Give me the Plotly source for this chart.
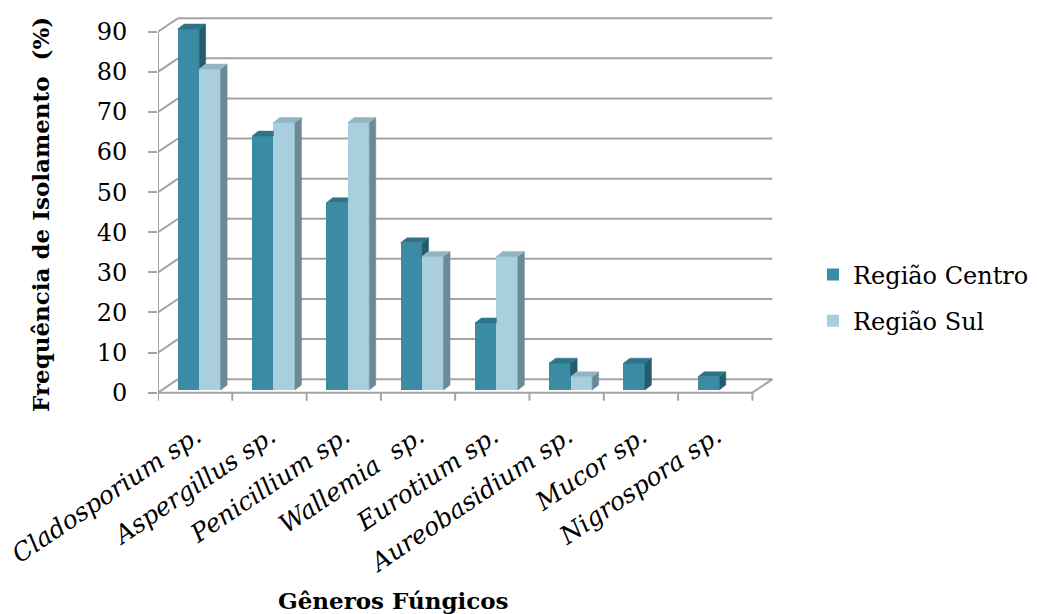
import plotly.graph_objects as go

# ---- data -------------------------------------------------------------
generos = ["Cladosporium sp.", "Aspergillus sp.", "Penicillium sp.", "Wallemia  sp.",
           "Eurotium sp.", "Aureobasidium sp.", "Mucor sp.", "Nigrospora sp."]
regiao_centro = [90.0, 63.3, 46.7, 36.7, 16.7, 6.7, 6.7, 3.3]
regiao_sul = [80.0, 66.7, 66.7, 33.3, 33.3, 3.3, 0.0, 0.0]
y_ticks = [0, 10, 20, 30, 40, 50, 60, 70, 80, 90]

# ---- geometry of the pseudo-3D frame (pixel sizes turned into axis units) ----
W, H = 1037, 614
PLOT_L, PLOT_R, PLOT_T, PLOT_B = 158, 775, 10, 404
PX_CAT = 74.3          # pixels per category slot
PX_UNIT = 4.011        # pixels per percentage point
Y0_PIX = 392.7         # pixel row of value 0 on the front edge

x_lo = -0.5
x_hi = x_lo + (PLOT_R - PLOT_L) / PX_CAT
y_lo = -(PLOT_B - Y0_PIX) / PX_UNIT
y_hi = (Y0_PIX - PLOT_T) / PX_UNIT

WALL_DX = 20 / PX_CAT
WALL_DY = 13.5 / PX_UNIT
DEPTH_F = 0.2                      # bars sit slightly behind the front edge
SX = DEPTH_F * WALL_DX
B0 = DEPTH_F * WALL_DY
BAR_W = 21.5 / PX_CAT
BAR_DX = 6.5 / PX_CAT
BAR_DY = 5.0 / PX_UNIT

C_FRONT, C_TOP, C_SIDE = "#3A8BA3", "#2D7488", "#235D6D"
S_FRONT, S_TOP, S_SIDE = "#A9CFDE", "#93B5C3", "#6C8A96"
GRID = "#A3A3A3"
n = len(generos)

fig = go.Figure()

# front faces
xc = [i - BAR_W / 2 + SX for i in range(n)]
xs = [i + BAR_W / 2 + SX for i in range(n)]
fig.add_trace(go.Bar(x=xc, y=regiao_centro, base=[B0] * n, width=BAR_W,
                     marker=dict(color=C_FRONT, line=dict(width=0)),
                     name="Região Centro", legendgroup="c", hoverinfo="skip"))
fig.add_trace(go.Bar(x=xs, y=regiao_sul, base=[B0] * n, width=BAR_W,
                     marker=dict(color=S_FRONT, line=dict(width=0)),
                     name="Região Sul", legendgroup="s", hoverinfo="skip"))


def poly_trace(xs_, ys_, color):
    return go.Scatter(x=xs_, y=ys_, mode="lines", fill="toself", fillcolor=color,
                      line=dict(width=0.5, color=color), hoverinfo="skip",
                      showlegend=False)


# side and top faces of the bars
c_side_x, c_side_y, c_top_x, c_top_y = [], [], [], []
s_side_x, s_side_y, s_top_x, s_top_y = [], [], [], []
for i in range(n):
    vc, vs = regiao_centro[i], regiao_sul[i]
    xl = i - BAR_W + SX
    xm = i + SX
    xr = i + BAR_W + SX
    tc, ts = B0 + vc, B0 + vs
    if vc > 0:
        # visible part of the centro side face (above the neighbouring bar)
        if vc > vs:
            c_side_x += [xm, xm + BAR_DX, xm + BAR_DX, xm, xm, None]
            c_side_y += [ts, ts + BAR_DY, tc + BAR_DY, tc, ts, None]
            c_top_x += [xl, xm, xm + BAR_DX, xl + BAR_DX, xl, None]
            c_top_y += [tc, tc, tc + BAR_DY, tc + BAR_DY, tc, None]
        else:
            c_top_x += [xl, xm, xm, xl + BAR_DX, xl, None]
            c_top_y += [tc, tc, tc + BAR_DY, tc + BAR_DY, tc, None]
    if vs > 0:
        s_side_x += [xr, xr + BAR_DX, xr + BAR_DX, xr, xr, None]
        s_side_y += [B0, B0 + BAR_DY, ts + BAR_DY, ts, B0, None]
        s_top_x += [xm, xr, xr + BAR_DX, xm + BAR_DX, xm, None]
        s_top_y += [ts, ts, ts + BAR_DY, ts + BAR_DY, ts, None]

fig.add_trace(poly_trace(c_side_x, c_side_y, C_SIDE))
fig.add_trace(poly_trace(c_top_x, c_top_y, C_TOP))
fig.add_trace(poly_trace(s_side_x, s_side_y, S_SIDE))
fig.add_trace(poly_trace(s_top_x, s_top_y, S_TOP))

# walls, floor and axis lines
shapes = []


def seg(x0, y0, x1, y1):
    shapes.append(dict(type="line", xref="x", yref="y", x0=x0, y0=y0, x1=x1, y1=y1,
                       line=dict(color=GRID, width=2), layer="below"))


for v in y_ticks:
    seg(x_lo + WALL_DX, v + WALL_DY, n - 0.5 + WALL_DX, v + WALL_DY)
    seg(x_lo, v, x_lo + WALL_DX, v + WALL_DY)
seg(x_lo, 0, x_lo, y_ticks[-1])
seg(x_lo, 0, n - 0.5, 0)
seg(n - 0.5, 0, n - 0.5 + WALL_DX, WALL_DY)
for k in range(n + 1):
    seg(k - 0.5, 0, k - 0.5, -8 / PX_UNIT)

serif = "DejaVu Serif"
fig.update_layout(
    width=W, height=H,
    margin=dict(l=PLOT_L, r=W - PLOT_R, t=PLOT_T, b=H - PLOT_B, pad=0, autoexpand=False),
    paper_bgcolor="white", plot_bgcolor="white",
    barmode="overlay", bargap=0,
    shapes=shapes,
    showlegend=True,
    legend=dict(x=(813 - PLOT_L) / (PLOT_R - PLOT_L), xanchor="left",
                y=(PLOT_B - 298) / (PLOT_B - PLOT_T), yanchor="middle",
                font=dict(family=serif, size=24, color="black"),
                traceorder="grouped", tracegroupgap=12,
                bgcolor="rgba(0,0,0,0)"),
    xaxis=dict(range=[x_lo, x_hi], tickvals=[i + SX - 0.04 for i in range(n)],
               ticktext=generos, tickangle=-34, ticks="",
               tickfont=dict(family=serif, size=25, color="black", style="italic"),
               showgrid=False, zeroline=False, showline=False,
               ticklabelstandoff=12, automargin=False),
    yaxis=dict(range=[y_lo, y_hi], tickvals=y_ticks, ticks="outside", ticklen=9,
               tickwidth=2, tickcolor=GRID,
               tickfont=dict(family=serif, size=24, color="black"),
               showgrid=False, zeroline=False, showline=False,
               ticklabelstandoff=16, automargin=False),
    annotations=[
        dict(text="<b>Frequência de Isolamento  (%)</b>", xref="paper", yref="paper",
             x=(40 - PLOT_L) / (PLOT_R - PLOT_L), y=(PLOT_B - 215) / (PLOT_B - PLOT_T),
             xanchor="center", yanchor="middle", textangle=-90, showarrow=False,
             font=dict(family=serif, size=23, color="black")),
        dict(text="<b>Gêneros Fúngicos</b>", xref="paper", yref="paper",
             x=(393 - PLOT_L) / (PLOT_R - PLOT_L), y=(PLOT_B - 600) / (PLOT_B - PLOT_T),
             xanchor="center", yanchor="middle", showarrow=False,
             font=dict(family=serif, size=23, color="black")),
    ],
)

fig.write_html("out.html")
